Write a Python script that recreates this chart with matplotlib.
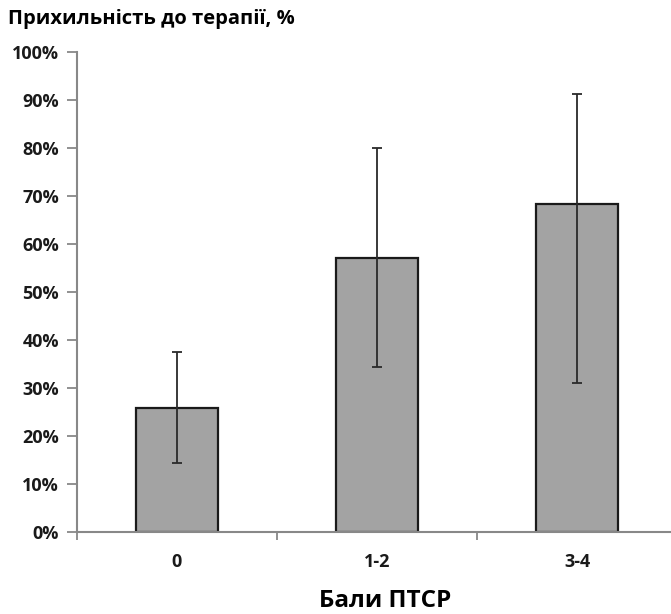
import numpy as np
import matplotlib
matplotlib.use("Agg")
import matplotlib.pyplot as plt
from matplotlib.ticker import FixedLocator, PercentFormatter

plt.rcParams["font.family"] = ["Open Sans", "DejaVu Sans"]

# data
categories = ["0", "1-2", "3-4"]
adherence = [25.9, 57.1, 68.3]
err_low = [11.5, 22.8, 37.3]
err_high = [11.5, 23.0, 23.0]

fig = plt.figure(figsize=(6.71, 6.14), dpi=100)
ax = fig.add_axes([77 / 671, 82 / 614, 600 / 671, 480 / 614])

x = np.arange(len(categories))
ax.bar(x, adherence, width=0.41, color="#a3a3a3", edgecolor="#1a1a1a",
       linewidth=1.6, zorder=2)
ax.errorbar(x, adherence, yerr=[err_low, err_high], fmt="none",
            ecolor="#2a2a2a", elinewidth=1.3, capsize=3.5, capthick=1.3, zorder=3)

ax.set_xlim(-0.5, 2.5)
ax.set_ylim(0, 100)
ax.set_yticks(np.arange(0, 101, 10))
ax.yaxis.set_major_formatter(PercentFormatter(decimals=0))

# category labels centered, ticks between categories
ax.xaxis.set_major_locator(FixedLocator([-0.5, 0.5, 1.5, 2.5]))
ax.xaxis.set_minor_locator(FixedLocator(x))
ax.xaxis.set_major_formatter(plt.NullFormatter())
ax.set_xticklabels(categories, minor=True)
ax.tick_params(axis="x", which="minor", length=0, pad=15, labelsize=13)
ax.tick_params(axis="x", which="major", length=6, width=1.3, color="#888888")
ax.tick_params(axis="y", length=7, width=1.3, color="#888888", labelsize=13, pad=6)
for lab in ax.get_xticklabels(minor=True) + ax.get_yticklabels():
    lab.set_fontweight("bold")
    lab.set_color("#1a1a1a")

for side in ["top", "right"]:
    ax.spines[side].set_visible(False)
for side in ["left", "bottom"]:
    ax.spines[side].set_color("#888888")
    ax.spines[side].set_linewidth(1.5)

fig.text(8 / 671, 1 - 19 / 614, "Прихильність до терапії, %", fontsize=14.5,
         fontweight="bold", ha="left", va="center")
fig.text(385 / 671, 1 - 601 / 614, "Бали ПТСР", fontsize=17.5,
         fontweight="bold", ha="center", va="center")

fig.savefig("out.png", dpi=100, facecolor="white")
